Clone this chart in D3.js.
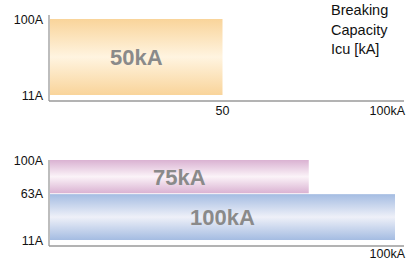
<!DOCTYPE html>
<html>
<head>
<meta charset="utf-8">
<script src="https://cdn.jsdelivr.net/npm/d3@7"></script>
<style>
  body { margin: 0; background: #fff; }
  svg { display: block; font-family: "Liberation Sans", Arial, sans-serif; }
</style>
</head>
<body>
<div id="chart"></div>
<script>
// Breaking capacity ranges (rated current A vs Icu kA)
var topBars = [
    { name: "50kA", icu: 50, lo: 11, hi: 100, key: "orange" }
];
var bottomBars = [
    { name: "75kA", icu: 75, lo: 63, hi: 100, key: "pink" },
    { name: "100kA", icu: 100, lo: 11, hi: 62, key: "blue" }
];
var topTicksY = [100, 11];
var bottomTicksY = [100, 63, 11];
var topTicksX = [50, 100];
var bottomTicksX = [100];
var titleLines = ["Breaking", "Capacity", "Icu [kA]"];

var colors = {
    orange: ["#f9d49a", "#fff4e0"],
    pink: ["#dab2d2", "#fbf3f8"],
    blue: ["#a4bce2", "#eef0f8"]
};

var width = 414, height = 261;

var svg = d3.select("#chart")
    .append("svg")
    .attr("width", width)
    .attr("height", height);

// vertical gradients, dark at edges and light in the middle
var defs = svg.append("defs");
Object.keys(colors).forEach(function (k) {
    var g = defs.append("linearGradient")
        .attr("id", "grad-" + k)
        .attr("x1", 0).attr("y1", 0).attr("x2", 0).attr("y2", 1);
    g.append("stop").attr("offset", "0%").attr("stop-color", colors[k][0]);
    g.append("stop").attr("offset", "50%").attr("stop-color", colors[k][1]);
    g.append("stop").attr("offset", "100%").attr("stop-color", colors[k][0]);
});

var x = d3.scaleLinear().domain([0, 100]).range([50, 395]);

function drawPanel(bars, ticksY, ticksX, y, axisTop, axisBottom, tickGap) {
    var g = svg.append("g");

    g.selectAll("rect.bar")
        .data(bars)
        .enter()
        .append("rect")
        .attr("class", "bar")
        .attr("x", x(0))
        .attr("y", d => y(d.hi))
        .attr("width", d => x(d.icu) - x(0))
        .attr("height", d => y(d.lo) - y(d.hi))
        .style("fill", d => "url(#grad-" + d.key + ")");

    g.selectAll("text.barlabel")
        .data(bars)
        .enter()
        .append("text")
        .attr("class", "barlabel")
        .attr("x", d => (x(0) + x(d.icu)) / 2)
        .attr("y", d => (y(d.lo) + y(d.hi)) / 2)
        .attr("dy", "0.36em")
        .attr("text-anchor", "middle")
        .style("font-size", "22px")
        .style("font-weight", "bold")
        .style("fill", "#8a8a8a")
        .text(d => d.name);

    // axes lines
    g.append("line")
        .attr("x1", 49).attr("x2", 49)
        .attr("y1", axisTop).attr("y2", axisBottom)
        .style("stroke", "#9a9a9a").style("stroke-width", 1.3);
    g.append("line")
        .attr("x1", 49).attr("x2", 404)
        .attr("y1", axisBottom).attr("y2", axisBottom)
        .style("stroke", "#9a9a9a").style("stroke-width", 1.3);

    g.selectAll("text.ytick")
        .data(ticksY)
        .enter()
        .append("text")
        .attr("class", "ytick")
        .attr("x", 43)
        .attr("y", d => y(d))
        .attr("dy", "0.36em")
        .attr("text-anchor", "end")
        .style("font-size", "12.5px")
        .style("fill", "#111")
        .text(d => d + "A");

    g.selectAll("text.xtick")
        .data(ticksX)
        .enter()
        .append("text")
        .attr("class", "xtick")
        .attr("x", d => d === 100 ? 405 : x(d))
        .attr("y", axisBottom + tickGap)
        .attr("text-anchor", d => d === 100 ? "end" : "middle")
        .style("font-size", "12.5px")
        .style("fill", "#111")
        .text(d => d === 100 ? "100kA" : d);
}

var yTop = d3.scaleLinear().domain([11, 100]).range([95, 19]);
var yBottom = d3.scaleLinear().domain([11, 100]).range([240, 160]);

drawPanel(topBars, topTicksY, topTicksX, yTop, 15, 101, 14);
drawPanel(bottomBars, bottomTicksY, bottomTicksX, yBottom, 160, 246, 11.5);

// title in top right
svg.append("g")
    .selectAll("text")
    .data(titleLines)
    .enter()
    .append("text")
    .attr("x", 331)
    .attr("y", (d, i) => 15 + i * 19.5)
    .style("font-size", "14.5px")
    .style("fill", "#111")
    .text(d => d);
</script>
</body>
</html>
